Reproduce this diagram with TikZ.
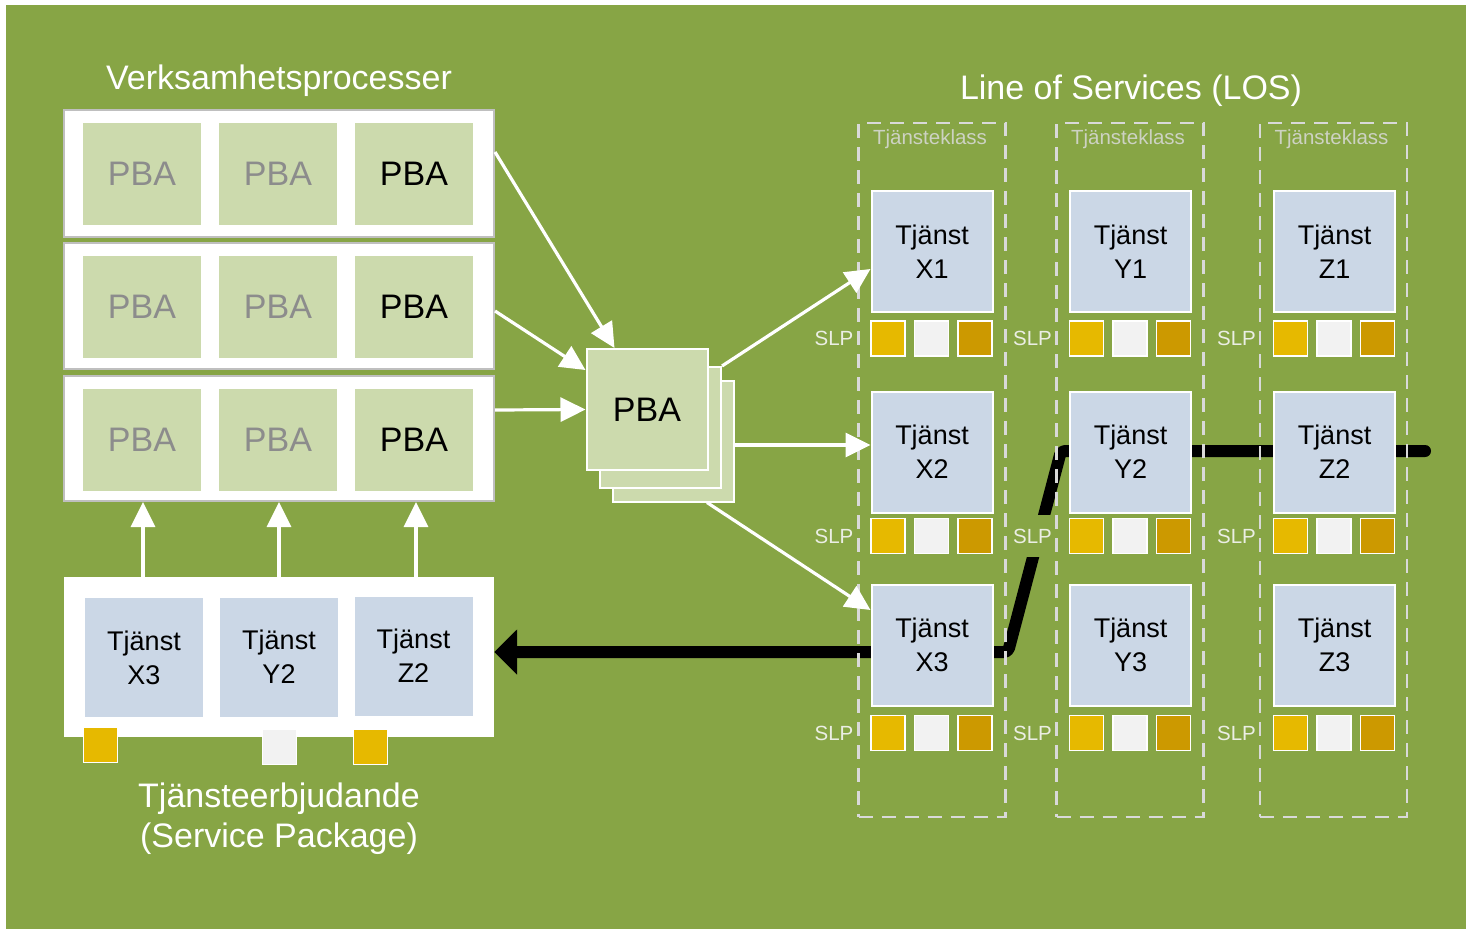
\documentclass[tikz,border=0pt]{standalone}
\usepackage{fontspec}
\setmainfont{Liberation Sans}
\usetikzlibrary{arrows.meta}

\definecolor{bggreen}{RGB}{135,165,69}
\definecolor{pbagreen}{RGB}{204,218,173}
\definecolor{svcblue}{RGB}{203,215,230}
\definecolor{gold}{RGB}{230,185,0}
\definecolor{offwhite}{RGB}{242,242,242}
\definecolor{amber}{RGB}{204,153,0}
\definecolor{dimgray}{RGB}{140,140,140}
\definecolor{panelgray}{RGB}{191,191,191}
\definecolor{dashgray}{RGB}{217,217,217}
\definecolor{classtext}{RGB}{205,210,195}
\definecolor{slptext}{RGB}{235,238,228}

\newcommand{\szBig}{\fontsize{34}{40}\selectfont}
\newcommand{\szMid}{\fontsize{27}{34}\selectfont}
\newcommand{\szSmall}{\fontsize{20.5}{24}\selectfont}

\pgfdeclarelayer{back}
\pgfdeclarelayer{under}
\pgfsetlayers{back,under,main}

\begin{document}
\begin{tikzpicture}[x=1pt,y=-1pt,
  panel/.style={draw=panelgray, line width=2pt, fill=white, inner sep=0pt, minimum width=430pt},
  pbacell/.style={fill=pbagreen, inner sep=0pt, minimum width=118pt, minimum height=102pt, font=\szBig},
  dimtext/.style={text=dimgray},
  stackcard/.style={draw=white, line width=2pt, fill=pbagreen, inner sep=0pt, minimum width=121pt, minimum height=121pt},
  svcbox/.style={draw=white, line width=2pt, fill=svcblue, inner sep=0pt, minimum width=121pt, minimum height=121pt, align=center, font=\szMid},
  pkgcell/.style={fill=svcblue, inner sep=0pt, minimum width=118pt, minimum height=119pt, align=center, font=\szMid},
  slpsq/.style={draw=white, line width=1.5pt, inner sep=0pt, minimum width=34pt, minimum height=35pt},
  slplabel/.style={fill=bggreen, text=slptext, font=\szSmall, inner xsep=2pt, inner ysep=14pt},
  classbox/.style={draw=dashgray, line width=2.5pt, dash pattern=on 14pt off 9pt, inner sep=0pt, minimum width=147pt, minimum height=694pt},
  classlabel/.style={text=classtext, font=\szSmall, inner sep=0pt},
  flow/.style={draw=white, line width=3.2pt, -{Triangle[length=25pt,width=24pt]}},
  route/.style={draw=black, line width=12pt, line cap=round, line join=round, rounded corners=4pt, -{Triangle[length=23pt,width=44pt]}},
  headtext/.style={text=white, font=\szBig, align=center, inner sep=0pt}
]
\useasboundingbox (0,0) rectangle (1466,929);

% backdrop
\begin{pgfonlayer}{back}
  \fill[white] (0,0) rectangle (1466,929);
  \fill[bggreen] (6,5) rectangle (1466,929);
\end{pgfonlayer}

% titles
\node[headtext] (title-left) at (279,81) {Verksamhetsprocesser};
\node[headtext] (title-right) at (1131,91) {Line of Services (LOS)};
\node[headtext] (title-pkg) at (279,819) {Tjänsteerbjudande\\(Service Package)};

% business process rows
\node[panel, minimum height=127pt] (row1) at (279,173.5) {};
\node[panel, minimum height=126pt] (row2) at (279,306) {};
\node[panel, minimum height=125pt] (row3) at (279,438.5) {};
\foreach \r/\cy in {1/174,2/306.5,3/439.5}{
  \node[pbacell, dimtext] (pba\r a) at (142,\cy) {PBA};
  \node[pbacell, dimtext] (pba\r b) at (278,\cy) {PBA};
  \node[pbacell] (pba\r c) at (414,\cy) {PBA};
}

% stacked PBA cards
\node[stackcard] (card3) at (673.5,441) {};
\node[stackcard] (card2) at (660.5,427.5) {};
\node[stackcard, font=\szBig] (card1) at (647,409.5) {PBA};

% service package
\node[fill=white, inner sep=0pt, minimum width=430pt, minimum height=160pt] (pkg) at (279,657) {};
\node[pkgcell] (pkg-x) at (144,657.5) {Tjänst\\X3};
\node[pkgcell] (pkg-y) at (279,657) {Tjänst\\Y2};
\node[pkgcell] (pkg-z) at (413.5,656) {Tjänst\\Z2};
\node[slpsq, fill=gold] (pkgsq-x) at (100.5,745) {};
\node[slpsq, fill=offwhite] (pkgsq-y) at (279.5,747) {};
\node[slpsq, fill=gold] (pkgsq-z) at (370.5,747) {};

% services with their SLP levels
\foreach \col/\cx in {X/932,Y/1130.5,Z/1334.5}{
  \foreach \row/\cy/\sy in {1/251.5/338.5,2/452/536,3/645/733}{
    \node[svcbox] (svc-\col\row) at (\cx,\cy) {Tjänst\\\col\row};
    \node[slpsq, fill=gold] (sq-\col\row-a) at ({\cx-44},\sy) {};
    \node[slpsq, fill=offwhite] (sq-\col\row-b) at ({\cx-0.5},\sy) {};
    \node[slpsq, fill=amber] (sq-\col\row-c) at ({\cx+43},\sy) {};
    \node[slplabel] (slp-\col\row) at ({\cx-98},\sy) {SLP};
  }
}

% service classes
\foreach \col/\cx in {X/932,Y/1130,Z/1333.5}{
  \node[classbox] (class-\col) at (\cx,470) {};
  \node[classlabel] (class-\col-label) at (\cx-2,139.5) {Tjänsteklass};
}

% selected route through the service classes
\begin{pgfonlayer}{under}
  \coordinate (route-end) at (1425,451);
  \coordinate (route-top) at (1061,451);
  \coordinate (route-low) at (1008,652);
  \draw[route] (route-end) -- (route-top) -- (route-low) -- ([yshift=5pt]pkg.east);
\end{pgfonlayer}

% flows
\draw[flow] ([yshift=21.5pt]row1.east) -- ([xshift=29pt]card1.north west);
\draw[flow] ([yshift=-5pt]row2.east) -- ([yshift=-22pt]card1.north west);
\draw[flow] ([yshift=28.5pt]row3.east) -- (card1.west);
\draw[flow] (card2.north east) -- ([yshift=-17.5pt]svc-X1.west);
\draw[flow] ([yshift=-4pt]card3.east) -- ([yshift=7pt]svc-X2.west);
\draw[flow] ([xshift=95pt]card3.south west) -- ([yshift=35pt]svc-X3.west);
\foreach \dx in {-136,0,137}{
  \draw[flow] ([xshift=\dx pt]pkg.north) -- ([xshift=\dx pt]row3.south);
}
\end{tikzpicture}
\end{document}
